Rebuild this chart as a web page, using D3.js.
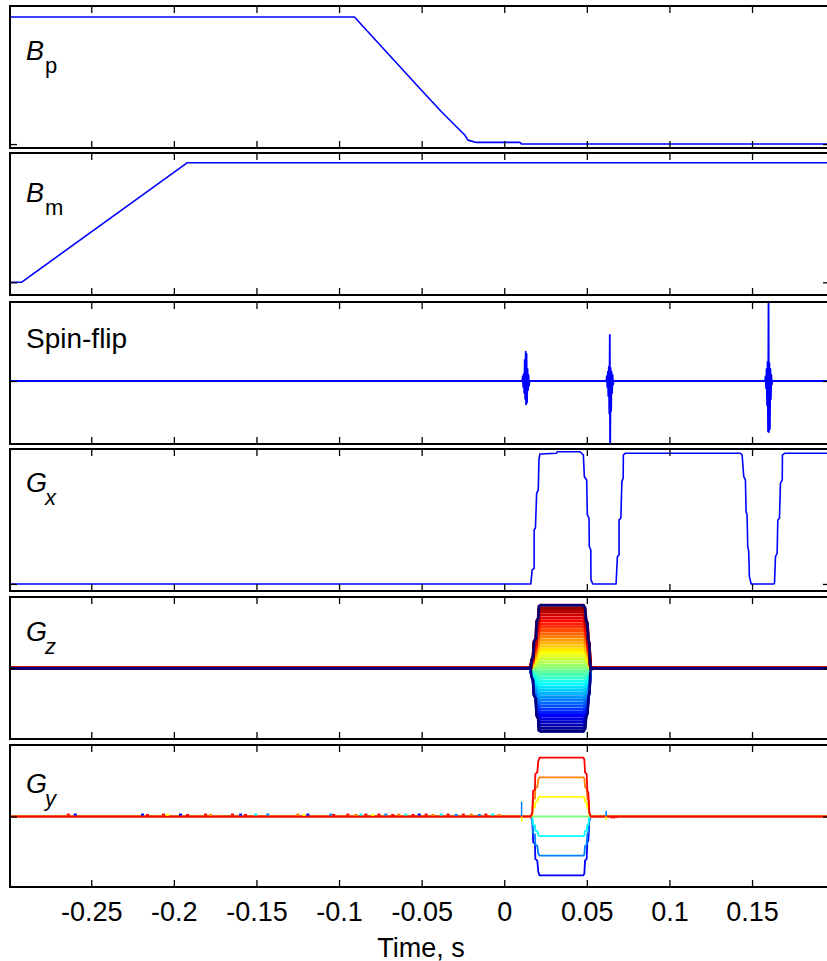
<!DOCTYPE html>
<html>
<head>
<meta charset="utf-8">
<script src="https://cdn.jsdelivr.net/npm/d3@7"></script>
<style>
  body { margin: 0; background: #fff; }
  svg { display: block; font-family: "Liberation Sans", Arial, Helvetica, sans-serif; }
</style>
</head>
<body>
<svg id="chart" width="827" height="961"></svg>
<script>
// x ticks
const xTickValues = [-0.25, -0.2, -0.15, -0.1, -0.05, 0, 0.05, 0.1, 0.15];
const xTickLabels = ["-0.25", "-0.2", "-0.15", "-0.1", "-0.05", "0", "0.05", "0.1", "0.15"];

// B_p (time s, relative level)
const bpPoints = [[-0.3, 1], [-0.0907, 1], [-0.0512, 0.439], [-0.038, 0.254], [-0.0239, 0.071],
  [-0.022, 0.031], [-0.0168, 0.013], [0.0095, 0.013], [0.0105, 0], [0.2, 0]];

// B_m
const bmPoints = [[-0.3, 0], [-0.2923, 0], [-0.1918, 1], [0.2, 1]];

// spin-flip rf bursts
const spinPoints = [[-0.3, 0],
  [0.0109, 0], [0.0112, 0.08], [0.0115, -0.1], [0.0118, 0.12], [0.0121, -0.2], [0.0124, 0.35], [0.0127, -0.3],
  [0.0130, 0.49], [0.0132, -0.39], [0.0135, 0.45], [0.0138, -0.36], [0.0141, 0.2], [0.0144, -0.15],
  [0.0147, 0.1], [0.0150, -0.08], [0.0153, 0],
  [0.0618, 0], [0.0621, 0.08], [0.0624, -0.1], [0.0627, 0.15], [0.0630, -0.25], [0.0633, 0.24], [0.0636, -0.54],
  [0.0639, 0.77], [0.0641, -1.3], [0.0644, 0.22], [0.0647, -0.5], [0.0650, 0.15], [0.0653, -0.2],
  [0.0656, 0.1], [0.0659, -0.06], [0.0662, 0],
  [0.1579, 0], [0.1582, 0.08], [0.1585, -0.12], [0.1588, 0.2], [0.1591, -0.4], [0.1594, 0.32], [0.1597, -0.84],
  [0.1600, 1.45], [0.1602, -0.85], [0.1605, 0.3], [0.1608, -0.8], [0.1611, 0.2], [0.1614, -0.3],
  [0.1617, 0.1], [0.1620, -0.06], [0.1623, 0],
  [0.2, 0]];

// G_x
const gxPoints = [[-0.3, 0], [0.0161, 0], [0.0169, 0.107], [0.0181, 0.12], [0.0181, 0.413], [0.0189, 0.43],
  [0.0196, 0.694], [0.0206, 0.72], [0.0210, 0.949], [0.0216, 0.995], [0.0317, 1.0], [0.0321, 1.012],
  [0.0459, 1.012], [0.0479, 0.987],
  [0.0485, 0.821], [0.0499, 0.796], [0.0503, 0.528], [0.0513, 0.503], [0.0515, 0.285], [0.0524, 0.26],
  [0.0525, 0.031], [0.0536, 0],
  [0.0677, 0], [0.0685, 0.209], [0.0695, 0.222], [0.0695, 0.49], [0.0706, 0.503], [0.0712, 0.783],
  [0.0720, 0.809], [0.0721, 0.987], [0.0732, 1.0],
  [0.1430, 1.0], [0.1440, 0.987], [0.1450, 0.821], [0.1460, 0.796], [0.1464, 0.553], [0.1470, 0.528],
  [0.1474, 0.285], [0.1480, 0.247], [0.1484, 0.056], [0.1495, 0],
  [0.1632, 0], [0.1636, 0.005], [0.1642, 0.209], [0.1652, 0.235], [0.1656, 0.49], [0.1666, 0.503],
  [0.1672, 0.77], [0.1683, 0.796], [0.1684, 0.987], [0.1697, 1.0], [0.2, 1.0]];

// G_z phase steps: waveform shape (0..1) and step amplitudes
const gzShape = [[-0.3, 0], [0.0160, 0], [0.0166, 0.133], [0.0175, 0.186], [0.0180, 0.426], [0.0192, 0.479],
  [0.0196, 0.745], [0.0206, 0.798], [0.0210, 0.984], [0.0220, 1], [0.0479, 1], [0.0489, 0.957],
  [0.0495, 0.771], [0.0503, 0.718], [0.0509, 0.452], [0.0515, 0.399], [0.0519, 0.106], [0.0525, 0], [0.2, 0]];
const gzLevels = [-1, -0.95, -0.9, -0.85, -0.8, -0.75, -0.7, -0.65, -0.6, -0.55, -0.5, -0.45, -0.4, -0.35,
  -0.3, -0.25, -0.2, -0.15, -0.1, -0.05, 0, 0.05, 0.1, 0.15, 0.2, 0.25, 0.3, 0.35, 0.4, 0.45, 0.5, 0.55,
  0.6, 0.65, 0.7, 0.75, 0.8, 0.85, 0.9, 0.95, 1];

// G_y steps
const gyShape = [[-0.3, 0], [0.0160, 0], [0.0170, 0.07], [0.0175, 0.44], [0.0186, 0.46], [0.0188, 0.72],
  [0.0200, 0.75], [0.0206, 0.94], [0.0214, 1], [0.0479, 1], [0.0485, 0.97], [0.0489, 0.75], [0.0499, 0.72],
  [0.0503, 0.44], [0.0509, 0.41], [0.0515, 0.07], [0.0524, 0], [0.2, 0]];
const gyLevels = [-3, -2, -1, 0, 1, 2, 3];
const gyColors = ["#0000ff", "#0080ff", "#00ffff", "#80ff80", "#ffff00", "#ff8000", "#ff0000"];
// baseline noise specks [time, value, level index]
const gyNoise = [[-0.2648, 0.1, 6], [-0.2606, 0.1, 0], [-0.2199, 0.1, 0], [-0.2169, 0.08, 6],
  [-0.2072, 0.1, 6], [-0.2048, 0.08, 4], [-0.1969, 0.1, 0], [-0.1926, 0.08, 6], [-0.1817, 0.1, 6],
  [-0.1787, 0.08, 5], [-0.1654, 0.1, 6], [-0.1605, 0.1, 0], [-0.1575, 0.08, 6], [-0.1514, 0.1, 2],
  [-0.1441, 0.1, 1], [-0.1259, 0.1, 5], [-0.1222, 0.08, 4], [-0.1198, 0.1, 0], [-0.1059, 0.1, 1],
  [-0.1041, 0.08, 6], [-0.0956, 0.1, 6], [-0.0907, 0.08, 5], [-0.0877, 0.1, 2], [-0.0847, 0.1, 6],
  [-0.0805, 0.08, 4], [-0.0768, 0.1, 6], [-0.0726, 0.1, 1], [-0.0684, 0.08, 6], [-0.0647, 0.1, 5],
  [-0.0605, 0.1, 2], [-0.0561, 0.08, 6], [-0.0524, 0.1, 0], [-0.0482, 0.1, 6], [-0.0440, 0.08, 5],
  [-0.0391, 0.1, 2], [-0.0349, 0.1, 6], [-0.0300, 0.08, 1], [-0.0257, 0.1, 6], [-0.0209, 0.1, 5],
  [-0.0160, 0.08, 1], [-0.0120, 0.1, 6], [-0.0080, 0.1, 2], [-0.0040, 0.08, 5]];
// small spikes [time, value, level index]
const gySpikes = [[0.0105, 0.755, 1], [0.0105, -0.265, 4], [0.0617, 0.296, 1], [0.0617, -0.18, 4],
  [0.0650, -0.1, 6], [0.0665, -0.12, 6], [0.0680, -0.08, 6]];

// layout
const panelHeight = 142;
const x = d3.scaleLinear().domain([-0.2992, 0.1972]).range([10, 830]);

const panels = [
  { id: "bp", top: 6, domain: [-0.031, 1.087], label: "B", sub: "p", subItalic: false, base: 54 },
  { id: "bm", top: 153, domain: [-0.106, 1.081], label: "B", sub: "m", subItalic: false, base: 48.7 },
  { id: "sf", top: 302, domain: [-1.05, 1.317], label: "Spin-flip", sub: null, base: 46.3 },
  { id: "gx", top: 449, domain: [-0.054, 1.033], label: "G", sub: "x", subItalic: true, base: 43 },
  { id: "gz", top: 597, domain: [-1.122, 1.132], label: "G", sub: "z", subItalic: true, base: 44 },
  { id: "gy", top: 745, domain: [-3.597, 3.648], label: "G", sub: "y", subItalic: true, base: 47.7 }
];

const svg = d3.select("#chart");
const defs = svg.append("defs");

function jet(v) {
  const c = k => Math.max(0, Math.min(1, 1.5 - Math.abs(4 * v - k)));
  return d3.rgb(255 * c(3), 255 * c(2), 255 * c(1)).toString();
}

panels.forEach(p => {
  const y = d3.scaleLinear().domain(p.domain).range([p.top + panelHeight, p.top]);
  const line = d3.line().x(d => x(d[0])).y(d => y(d[1]));

  defs.append("clipPath").attr("id", "clip-" + p.id)
    .append("rect").attr("x", 10).attr("y", p.top).attr("width", 820).attr("height", panelHeight);

  const g = svg.append("g");
  const plot = g.append("g").attr("clip-path", `url(#clip-${p.id})`);

  const blue = (pts, w) => plot.append("path").datum(pts).attr("d", line)
    .attr("fill", "none").attr("stroke", "#0000ff").attr("stroke-width", w || 1.6)
    .attr("stroke-linejoin", "round");

  if (p.id === "bp") blue(bpPoints);
  if (p.id === "bm") blue(bmPoints);
  if (p.id === "sf") blue(spinPoints, 1.8);
  if (p.id === "gx") blue(gxPoints);

  if (p.id === "gz") {
    gzLevels.forEach(lv => {
      plot.append("path").datum(gzShape.map(d => [d[0], d[1] * lv])).attr("d", line)
        .attr("fill", "none").attr("stroke", jet((lv + 1) / 2)).attr("stroke-width", 3);
    });
    [1, -1].forEach(lv => {
      plot.append("path").datum(gzShape.map(d => [d[0], d[1] * lv])).attr("d", line)
        .attr("fill", "none").attr("stroke", "#000080").attr("stroke-width", 2.4);
    });
  }

  if (p.id === "gy") {
    gyLevels.forEach((lv, i) => {
      plot.append("path").datum(gyShape.map(d => [d[0], d[1] * lv])).attr("d", line)
        .attr("fill", "none").attr("stroke", gyColors[i]).attr("stroke-width", 1.8);
    });
    plot.selectAll(".noise").data(gyNoise).join("line")
      .attr("x1", d => x(d[0])).attr("x2", d => x(d[0]) + 3)
      .attr("y1", d => y(d[1])).attr("y2", d => y(d[1]))
      .attr("stroke", d => gyColors[d[2]]).attr("stroke-width", 2);
    plot.selectAll(".spike").data(gySpikes).join("line")
      .attr("x1", d => x(d[0])).attr("x2", d => x(d[0]))
      .attr("y1", y(0)).attr("y2", d => y(d[1]))
      .attr("stroke", d => gyColors[d[2]]).attr("stroke-width", 1.5);
  }

  // ticks pointing inward
  const tickStyle = sel => {
    sel.select(".domain").remove();
    sel.selectAll(".tick line").attr("stroke", "#000").attr("stroke-width", 1.3);
  };
  g.append("g").attr("transform", `translate(0,${p.top})`)
    .call(d3.axisBottom(x).tickValues(xTickValues).tickSize(7).tickFormat("")).call(tickStyle);
  g.append("g").attr("transform", `translate(0,${p.top + panelHeight})`)
    .call(d3.axisTop(x).tickValues(xTickValues).tickSize(7).tickFormat("")).call(tickStyle);
  g.append("g").attr("transform", "translate(10,0)")
    .call(d3.axisRight(y).tickValues([0]).tickSize(7).tickFormat("")).call(tickStyle);
  g.append("g").attr("transform", "translate(830,0)")
    .call(d3.axisLeft(y).tickValues([0]).tickSize(7).tickFormat("")).call(tickStyle);

  // box
  g.append("rect").attr("x", 10).attr("y", p.top).attr("width", 820).attr("height", panelHeight)
    .attr("fill", "none").attr("stroke", "#000").attr("stroke-width", 2);

  // label
  const t = g.append("text").attr("x", 26).attr("y", p.top + p.base).attr("fill", "#000");
  if (p.sub) {
    t.append("tspan").attr("font-size", 27).attr("font-style", "italic").text(p.label);
    t.append("tspan").attr("x", 45).attr("dy", 13.3).attr("font-size", 22)
      .attr("font-style", p.subItalic ? "italic" : "normal").text(p.sub);
  } else {
    t.attr("font-size", 28).text(p.label);
  }
});

// bottom axis labels
const last = panels[panels.length - 1];
const xAxis = svg.append("g").attr("transform", `translate(0,${last.top + panelHeight})`)
  .call(d3.axisBottom(x).tickValues(xTickValues).tickSize(0).tickPadding(15)
    .tickFormat((d, i) => xTickLabels[i]));
xAxis.select(".domain").remove();
xAxis.selectAll("text").attr("font-size", 27).attr("font-family", "Liberation Sans, Arial, sans-serif")
  .attr("fill", "#000");

svg.append("text").attr("x", 421).attr("y", 956.5).attr("text-anchor", "middle")
  .attr("font-size", 27).attr("fill", "#000").text("Time, s");
</script>
</body>
</html>
